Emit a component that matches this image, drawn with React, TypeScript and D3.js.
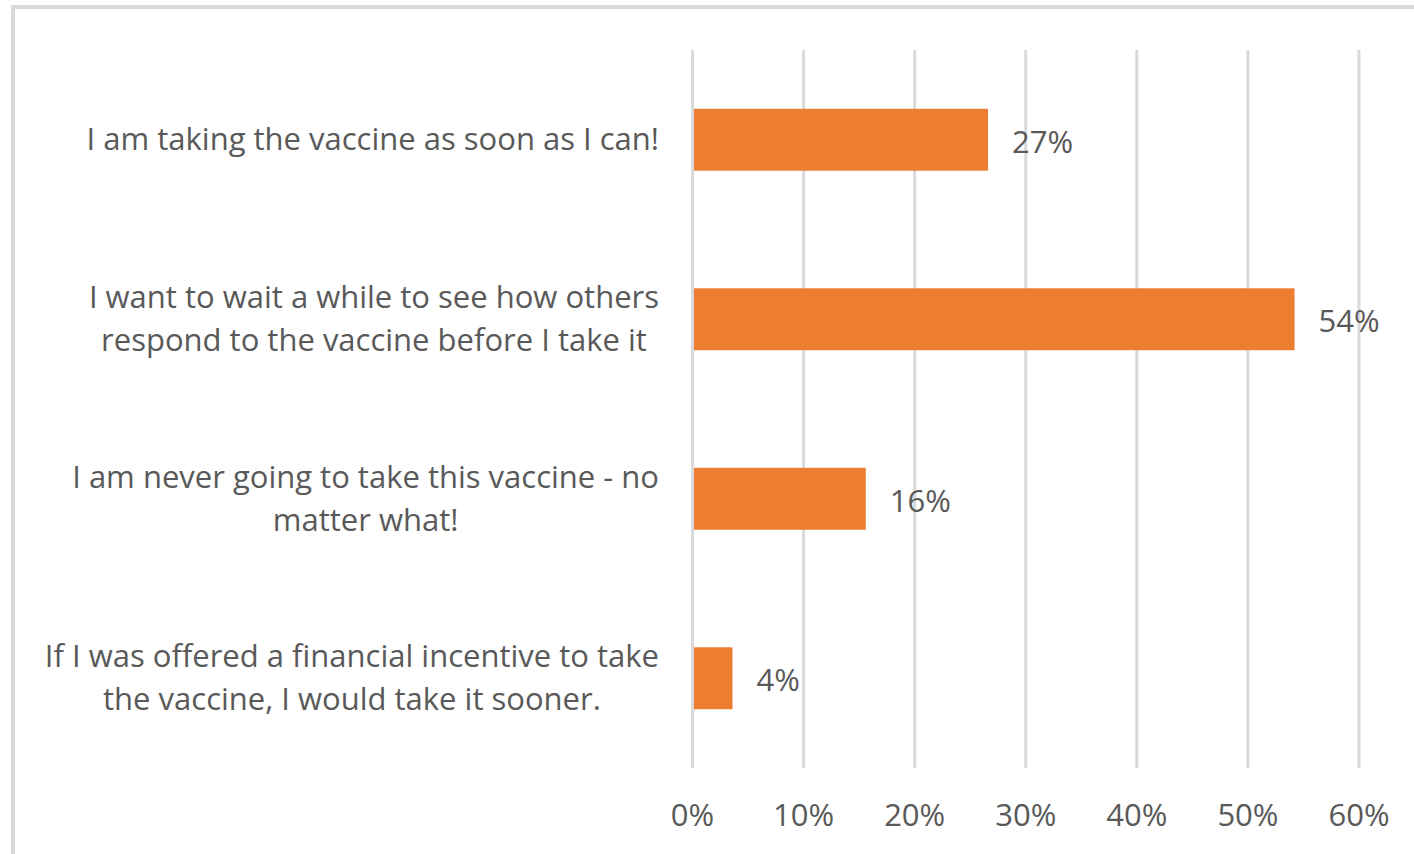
import React, { useEffect, useRef } from "react";
import * as d3 from "d3";

const categories: string[][] = [
  ["I am taking the vaccine as soon as I can!"],
  ["I want to wait a while to see how others", "respond to the vaccine before I take it"],
  ["I am never going to take this vaccine - no", "matter what!"],
  ["If I was offered a financial incentive to take", "the vaccine, I would take it sooner."],
];
const values: number[] = [26.6, 54.2, 15.6, 3.6];
const valueLabels: string[] = ["27%", "54%", "16%", "4%"];
const tickValues: number[] = [0, 10, 20, 30, 40, 50, 60];

const W = 1414;
const H = 854;
const FONT = "'Open Sans', sans-serif";
const FS = 31;
const TEXT = "#595959";

export default function App() {
  const ref = useRef<SVGSVGElement | null>(null);

  useEffect(() => {
    const svg = d3.select(ref.current);
    svg.selectAll("*").remove();

    svg
      .append("rect")
      .attr("x", 13)
      .attr("y", 7)
      .attr("width", W + 20)
      .attr("height", H + 20)
      .attr("fill", "white")
      .attr("stroke", "#d9d9d9")
      .attr("stroke-width", 4);

    const x = d3.scaleLinear().domain([0, 60]).range([692.5, 1359]);
    const y = d3
      .scaleBand<number>()
      .domain(categories.map((_, i) => i))
      .range([50, 768])
      .padding(0);
    const barH = y.bandwidth() * 0.345;

    svg
      .append("g")
      .selectAll("line")
      .data(tickValues)
      .join("line")
      .attr("x1", (d) => x(d))
      .attr("x2", (d) => x(d))
      .attr("y1", 50)
      .attr("y2", 768)
      .attr("stroke", "#d9d9d9")
      .attr("stroke-width", 3);

    svg
      .append("g")
      .selectAll("text")
      .data(tickValues)
      .join("text")
      .attr("x", (d) => x(d))
      .attr("y", 814)
      .attr("text-anchor", "middle")
      .attr("dominant-baseline", "central")
      .attr("font-family", FONT)
      .attr("font-size", FS)
      .attr("fill", TEXT)
      .text((d) => `${d}%`);

    svg
      .append("g")
      .selectAll("rect")
      .data(values)
      .join("rect")
      .attr("x", x(0) + 1.5)
      .attr("y", (_, i) => (y(i) as number) + y.bandwidth() / 2 - barH / 2)
      .attr("width", (d) => x(d) - x(0) - 1.5)
      .attr("height", barH)
      .attr("fill", "#ed7d31");

    svg
      .append("g")
      .selectAll("text")
      .data(values)
      .join("text")
      .attr("x", (d) => x(d) + 24)
      .attr("y", (_, i) => (y(i) as number) + y.bandwidth() / 2 + 1)
      .attr("dominant-baseline", "central")
      .attr("font-family", FONT)
      .attr("font-size", FS)
      .attr("fill", TEXT)
      .text((_, i) => valueLabels[i]);

    const lineH = 43;
    const rightEdge = 659;
    categories.forEach((lines, i) => {
      const cy = (y(i) as number) + y.bandwidth() / 2 - 1.5;
      const g = svg.append("g");
      const texts = lines.map((ln, j) =>
        g
          .append("text")
          .attr("y", cy + (j - (lines.length - 1) / 2) * lineH)
          .attr("dominant-baseline", "central")
          .attr("text-anchor", "middle")
          .attr("font-family", FONT)
          .attr("font-size", FS)
          .attr("fill", TEXT)
          .text(ln)
      );
      const maxW = d3.max(texts, (t) => (t.node() as SVGTextElement).getComputedTextLength()) || 0;
      texts.forEach((t) => t.attr("x", rightEdge - maxW / 2));
    });
  }, []);

  return (
    <svg
      ref={ref}
      width={W}
      height={H}
      style={{ position: "absolute", left: 0, top: 0, background: "white" }}
    />
  );
}
